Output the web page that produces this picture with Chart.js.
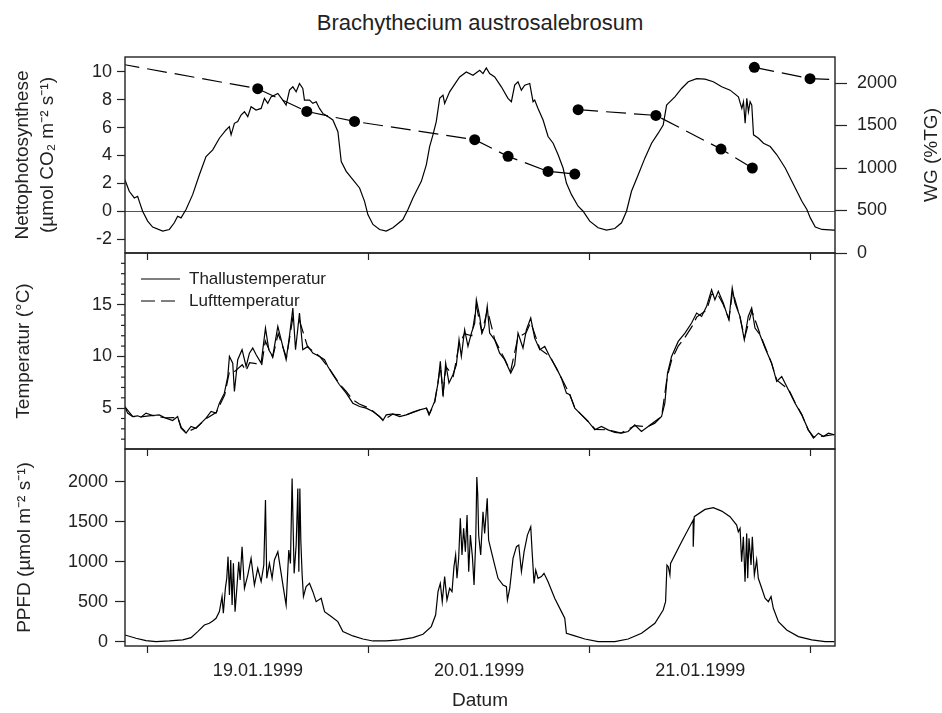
<!DOCTYPE html>
<html>
<head>
<meta charset="utf-8">
<script src="https://cdn.jsdelivr.net/npm/chart.js"></script>
<style>
  body { margin: 0; background: #fff; }
  #wrap { position: relative; width: 942px; height: 713px; }
  #wrap canvas { position: absolute; left: 0; top: 0; }
  #titel { position: absolute; left: 125px; width: 710px; top: 10px; line-height: 26px;
           text-align: center; font: 22px 'Liberation Sans', Arial, sans-serif; color: #222; }
</style>
</head>
<body>
<div id="wrap">
  <div id="titel">Brachythecium austrosalebrosum</div>
  <canvas id="npChart" width="942" height="713"></canvas>
  <canvas id="tempChart" width="942" height="713"></canvas>
  <canvas id="ppfdChart" width="942" height="713"></canvas>
</div>
<script>
// Zeitachse in Stunden ab 19.01.1999 0:00
const tagGrenzen = [0, 24, 48, 72];
const tagMitte = [12, 36, 60];
const tagLabels = ['19.01.1999', '20.01.1999', '21.01.1999'];

// Nettophotosynthese
const npZeit = [-2.43, -1.96, -1.41, -1.05, -0.87, -0.51, 0.04, 0.58, 1.67, 2.39, 2.93, 3.29, 3.66, 4.2, 4.92, 5.65, 6.37, 7.1, 7.82, 8.54,
  8.9, 9.09, 9.45, 9.81, 10.17, 10.54, 10.9, 11.26, 11.8, 12.35, 12.71, 13.07, 13.43, 14.16, 14.7, 15.06, 15.43, 15.79, 16.15, 16.51,
  16.87, 17.05, 17.6, 17.96, 18.32, 18.68, 19.04, 19.59, 20.13, 20.68, 21.04, 21.58, 22.3, 23.03, 23.57, 23.93, 24.48, 25.2, 25.92, 26.65,
  27.73, 28.28, 28.82, 29.36, 29.73, 30.27, 30.63, 30.99, 31.35, 31.72, 32.08, 32.26, 32.8, 33.16, 33.52, 33.89, 34.61, 35.33, 36.06, 36.42,
  36.78, 37.14, 37.69, 38.41, 39.13, 39.5, 39.86, 40.22, 40.58, 40.95, 41.49, 41.85, 42.03, 42.39, 42.94, 43.48, 44.03, 44.57, 45.11, 45.47,
  46.02, 46.74, 47.28, 48.0, 48.91, 49.82, 50.72, 51.45, 51.99, 52.53, 53.26, 53.98, 54.71, 55.43, 55.97, 56.34, 56.52, 57.24, 57.97, 58.69,
  59.6, 60.51, 61.41, 62.32, 63.23, 64.13, 64.5, 64.68, 64.86, 65.04, 65.22, 65.4, 65.58, 65.77, 66.31, 66.85, 67.58, 68.3, 69.21, 70.12,
  71.02, 71.56, 71.93, 72.47, 73.2, 74.46, 74.61];
const npWert = [2.26, 1.43, 0.95, 1.07, 0.71, 0, -0.71, -1.14, -1.43, -1.31, -0.83, -0.36, -0.48, 0.12, 1.19, 2.62, 3.93, 4.4, 5.24, 5.83,
  6.07, 5.48, 6.31, 6.43, 6.9, 7.14, 6.79, 7.5, 7.26, 7.38, 8.1, 7.74, 8.21, 8.45, 7.98, 7.62, 8.69, 8.93, 8.57, 9.17,
  8.81, 7.98, 7.98, 7.74, 7.86, 7.38, 7.02, 6.79, 6.55, 5.71, 3.57, 2.86, 2.26, 1.67, 0.71, -0.24, -0.95, -1.31, -1.43, -1.19,
  -0.6, 0.12, 0.95, 1.67, 2.14, 3.33, 4.64, 5.48, 6.43, 8.1, 8.33, 7.74, 8.57, 8.93, 9.29, 9.64, 10.0, 9.76, 10.12, 9.88,
  10.29, 9.88, 9.64, 8.93, 8.1, 7.86, 9.05, 9.29, 8.69, 9.05, 9.17, 7.86, 7.98, 7.38, 6.55, 5.36, 4.88, 4.05, 3.1, 2.02,
  1.19, 0.36, 0, -0.71, -1.19, -1.36, -1.24, -0.83, 0, 1.43, 2.62, 3.81, 4.88, 5.6, 6.19, 7.62, 7.74, 8.21, 8.81, 9.29,
  9.52, 9.48, 9.29, 8.93, 8.69, 8.21, 7.38, 7.86, 6.31, 8.1, 7.14, 7.86, 7.62, 5.48, 5.24, 4.88, 4.64, 4.05, 3.1, 1.9,
  0.71, 0.12, -0.48, -1.14, -1.31, -1.36, -1.36];

// Wassergehalt (null = Lücke zwischen Messreihen)
const wgZeit = [-6, 11.98, 17.3, 22.48, 35.52, 39.14, 43.48, 46.38, 46.55, 46.74, 55.18, 62.24, 65.64, 65.75, 65.86, 71.9, 77];
const wgWert = [2285, 1933, 1666, 1548, 1333, 1137, 960, 929, null, 1686, 1619, 1223, 1000, null, 2184, 2051, 2030];

// Thallustemperatur
const tempZeit = [-2.43, -2.14, -1.59, -1.05, -0.69, -0.14, 0.58, 1.3, 2.03, 2.75, 3.29, 3.66, 4.2, 4.74, 5.29, 5.83, 6.37, 6.92, 7.46, 7.82,
  8.36, 8.73, 8.91, 9.27, 9.45, 9.81, 10.28, 10.72, 11.08, 11.44, 11.81, 12.35, 12.82, 13.18, 13.61, 14.16, 14.7, 15.06, 15.42, 15.79,
  16.08, 16.51, 16.87, 17.42, 17.96, 18.68, 19.23, 19.59, 20.13, 20.85, 21.58, 22.3, 23.03, 23.75, 24.48, 25.2, 25.56, 25.92, 26.65, 27.37,
  28.1, 28.82, 29.54, 30.27, 30.56, 31.17, 31.54, 31.79, 32.08, 32.37, 32.73, 33.16, 33.53, 33.82, 34.07, 34.43, 34.79, 35.16, 35.52, 35.7,
  36.06, 36.31, 36.6, 36.88, 37.14, 37.69, 38.23, 38.77, 39.43, 39.86, 40.22, 40.76, 41.13, 41.6, 42.03, 42.58, 43.12, 43.66, 44.39, 44.93,
  45.47, 45.84, 46.38, 47.1, 47.82, 48.55, 49.27, 49.99, 50.72, 51.44, 52.16, 52.89, 53.61, 54.34, 55.06, 55.79, 56.15, 56.44, 56.88, 57.6,
  58.33, 59.05, 59.6, 60.14, 60.68, 61.22, 61.58, 61.95, 62.49, 62.85, 63.1, 63.46, 63.76, 64.3, 64.77, 65.2, 65.57, 65.93, 66.47, 67.02,
  67.74, 68.28, 68.83, 69.55, 70.28, 71.0, 71.72, 72.27, 72.81, 73.36, 73.9, 74.55];
const thallusWert = [5.16, 4.52, 4.19, 4.26, 4.13, 4.52, 4.29, 4.35, 4.03, 3.81, 4.19, 3.06, 2.58, 3.23, 3.06, 3.55, 4.03, 4.68, 4.52, 5.48,
  6.45, 8.06, 10.0, 9.35, 6.61, 9.68, 10.65, 9.03, 10.32, 10.81, 10.16, 9.35, 12.74, 10.65, 10.0, 12.9, 10.97, 9.68, 11.94, 14.68,
  10.65, 14.19, 10.65, 10.97, 10.32, 10.0, 9.68, 9.03, 8.23, 7.26, 6.45, 5.48, 5.16, 5.0, 4.68, 4.19, 3.81, 4.35, 4.45, 4.19,
  4.35, 4.61, 4.84, 5.0, 4.35, 5.65, 7.42, 9.52, 6.13, 9.35, 7.42, 8.23, 9.19, 11.61, 10.0, 12.58, 10.97, 12.26, 13.23, 15.48,
  13.87, 12.26, 12.9, 14.84, 12.26, 11.61, 10.32, 9.68, 8.39, 9.19, 12.26, 10.81, 12.58, 13.71, 11.77, 10.65, 10.97, 10.0, 8.87, 7.9,
  6.45, 6.29, 5.0, 4.35, 3.71, 2.9, 3.23, 2.9, 2.65, 2.58, 2.74, 3.39, 2.74, 3.23, 3.55, 4.19, 5.48, 8.39, 10.0, 11.45,
  12.26, 13.23, 14.19, 13.87, 14.84, 16.45, 15.48, 16.29, 15.16, 14.19, 13.55, 16.61, 15.16, 13.87, 11.61, 13.87, 14.68, 12.74, 12.1, 10.81,
  9.35, 7.58, 8.06, 6.77, 5.48, 4.35, 2.9, 2.1, 2.58, 2.26, 2.58, 2.42];

// Lufttemperatur
const luftZeit = [-2.4, -1.6, -0.7, 0.6, 2.0, 3.3, 3.7, 4.2, 5.3, 6.4, 7.5, 8.4, 8.9, 9.3, 9.8, 10.3, 10.7, 11.1, 11.8, 12.4,
  12.8, 13.6, 14.2, 15.1, 15.8, 16.5, 17.4, 18.7, 19.6, 20.9, 21.6, 22.3, 23.0, 23.8, 24.5, 25.6, 26.6, 28.1, 29.5, 30.3,
  30.6, 31.2, 31.8, 32.1, 32.4, 33.2, 33.8, 34.4, 35.2, 35.7, 36.3, 36.9, 37.7, 38.8, 39.4, 40.2, 41.1, 41.6, 42.6, 43.7,
  44.9, 45.8, 46.4, 47.8, 48.6, 50.0, 51.4, 52.9, 54.3, 55.8, 56.4, 56.9, 57.6, 58.3, 59.1, 59.6, 60.7, 61.2, 61.9, 62.5,
  63.1, 63.5, 64.3, 64.8, 65.6, 66.5, 67.7, 68.3, 69.6, 70.3, 71.0, 71.7, 72.3, 73.4, 74.55];
const luftWert = [5.1, 4.2, 4.15, 4.3, 4.05, 4.1, 3.1, 2.65, 3.1, 4.0, 4.6, 6.3, 8.5, 8.4, 8.8, 9.2, 8.6, 9.4, 9.3, 9.1,
  11.5, 9.9, 12.2, 9.9, 13.8, 13.5, 10.9, 10.0, 9.0, 7.3, 6.6, 5.8, 5.4, 5.1, 4.7, 3.85, 4.4, 4.35, 4.8, 5.0,
  4.4, 5.6, 9.0, 6.5, 9.0, 8.1, 11.0, 12.2, 12.0, 14.9, 12.3, 14.5, 11.6, 9.7, 8.5, 11.8, 12.3, 13.3, 10.7, 10.0,
  7.95, 6.4, 5.0, 3.75, 2.95, 2.9, 2.6, 3.3, 3.2, 4.2, 8.0, 9.7, 11.0, 11.8, 12.9, 13.8, 14.5, 16.0, 16.0, 15.0,
  13.6, 16.3, 13.8, 11.8, 14.4, 12.1, 9.4, 7.7, 6.8, 5.5, 4.4, 2.9, 2.2, 2.3, 2.45];

// PPFD
const ppfdZeit = [-2.43, -1.23, -0.14, 0.94, 2.39, 3.84, 4.74, 5.47, 6.19, 6.73, 7.1, 7.46, 7.82, 8.11, 8.25, 8.47, 8.62, 8.76, 8.91, 9.05,
  9.2, 9.34, 9.52, 9.7, 9.92, 10.07, 10.28, 10.54, 10.9, 11.26, 11.62, 11.98, 12.35, 12.64, 12.74, 12.82, 12.96, 13.25, 13.54, 13.79,
  14.16, 14.52, 14.77, 15.06, 15.35, 15.53, 15.71, 15.93, 16.15, 16.33, 16.44, 16.55, 16.66, 16.8, 16.94, 17.23, 17.6, 17.96, 18.32, 18.86,
  19.23, 19.95, 20.67, 21.22, 22.3, 23.39, 24.48, 25.92, 27.37, 28.82, 29.91, 30.81, 31.28, 31.54, 31.79, 32.0, 32.26, 32.51, 32.8, 33.06,
  33.27, 33.45, 33.6, 33.78, 33.96, 34.14, 34.32, 34.51, 34.69, 34.87, 35.05, 35.27, 35.45, 35.63, 35.75, 35.85, 35.95, 36.17, 36.42, 36.6,
  36.88, 37.03, 37.33, 37.69, 38.05, 38.6, 38.96, 39.07, 39.32, 39.68, 40.05, 40.3, 40.59, 40.88, 41.24, 41.6, 41.75, 41.96, 42.14, 42.39,
  42.76, 43.04, 43.48, 44.2, 44.93, 45.29, 45.47, 46.38, 47.47, 48.91, 50.72, 52.17, 53.62, 55.07, 55.97, 56.23, 56.38, 56.52, 56.7, 56.77,
  57.97, 59.22, 59.23, 59.34, 60.51, 61.41, 62.32, 63.22, 63.94, 64.12, 64.31, 64.48, 64.67, 64.85, 65.03, 65.14, 65.28, 65.5, 65.64, 65.86,
  66.11, 66.29, 66.66, 67.02, 67.38, 67.67, 67.92, 68.47, 69.37, 70.64, 72.09, 73.54, 74.55];
const ppfdWert = [83, 42, 12, 0, 8, 21, 50, 125, 208, 229, 258, 292, 375, 563, 354, 667, 792, 1063, 583, 1021,
  458, 979, 375, 646, 1000, 771, 1188, 667, 833, 1042, 708, 917, 750, 958, 1396, 1771, 792, 979, 792, 1021,
  1125, 854, 667, 458, 1146, 979, 2042, 854, 1208, 1917, 875, 1917, 1250, 833, 563, 688, 729, 625, 500, 542,
  375, 313, 250, 125, 71, 33, 8, 8, 21, 50, 92, 188, 333, 625, 729, 500, 813, 521, 667, 625,
  938, 1083, 792, 1042, 1542, 1083, 1417, 1125, 1583, 875, 1333, 1063, 708, 1250, 2060, 1833, 1333, 1083, 1625, 1354,
  1792, 1271, 1125, 958, 792, 708, 688, 521, 667, 1042, 1188, 1208, 875, 1125, 1333, 1438, 1125, 729, 896, 792,
  813, 854, 750, 542, 375, 292, 104, 71, 33, 0, 0, 33, 104, 229, 396, 500, 958, 938, 833, 979,
  1250, 1521, 1188, 1563, 1654, 1675, 1633, 1563, 1458, 1375, 1417, 1000, 1313, 750, 1354, 792, 1292, 958, 1313, 833,
  1021, 792, 667, 542, 500, 563, 417, 250, 146, 63, 21, 0, 0];

// Achsenbeschriftungen
const npTicks = [-2, 0, 2, 4, 6, 8, 10];
const wgTicks = [0, 500, 1000, 1500, 2000];
const tempTicks = [5, 10, 15];
const tempMinor = [2, 3, 4, 6, 7, 8, 9, 11, 12, 13, 14, 16, 17, 18, 19];
const ppfdTicks = [0, 500, 1000, 1500, 2000];

const X_MIN = -2.42, X_MAX = 74.61;
const LINKS = 125, RECHTS = 107;   // Breite der y-Achsen
const tickSchrift = { size: 18 };
const titelSchrift = { size: 19, lineHeight: 1.3 };

Chart.defaults.font.family = "'Liberation Sans', Arial, sans-serif";
Chart.defaults.color = '#222';

function punkte(zeit, wert) {
  return zeit.map((x, i) => ({ x: x, y: wert[i] }));
}

function feste(liste) {
  return scale => { scale.ticks = liste.map(v => ({ value: v })); };
}

// gemeinsame Zeitachse; Beschriftung nur im unteren Diagramm
function xAchse(mitLabels) {
  const alle = tagGrenzen.concat(tagMitte).sort((a, b) => a - b);
  return {
    type: 'linear', min: X_MIN, max: X_MAX,
    afterBuildTicks: feste(alle),
    afterFit: s => { s.height = mitLabels ? 67 : 8; },
    border: { display: false },
    grid: {
      drawOnChartArea: false, tickLength: 7, tickWidth: 1.2,
      tickColor: c => tagMitte.includes(c.tick.value) ? 'rgba(0,0,0,0)' : '#222'
    },
    ticks: {
      autoSkip: false, maxRotation: 0, padding: 7, font: tickSchrift,
      callback: v => (mitLabels && tagMitte.includes(v)) ? tagLabels[tagMitte.indexOf(v)] : ''
    },
    title: mitLabels
      ? { display: true, text: 'Datum', font: { size: 19, lineHeight: 1.2 }, padding: { top: 0, bottom: 1 } }
      : { display: false }
  };
}

function yAchse(min, max, ticks, titel, titelAbstand, tickLaenge, abstand) {
  return {
    position: 'left', min: min, max: max,
    afterBuildTicks: feste(ticks),
    afterFit: s => { s.width = LINKS; },
    border: { display: false },
    grid: { color: 'rgba(0,0,0,0)', tickColor: '#222', tickLength: tickLaenge, tickWidth: 1.2 },
    ticks: { padding: abstand, font: tickSchrift, callback: v => String(v) },
    title: { display: true, text: titel, font: titelSchrift, padding: { top: titelAbstand } }
  };
}

// Rahmen um jede Grafik
const rahmen = {
  id: 'rahmen',
  afterDraw(chart) {
    const { ctx, chartArea: a } = chart;
    ctx.save();
    ctx.strokeStyle = '#222';
    ctx.lineWidth = 1.4;
    ctx.strokeRect(a.left, a.top, a.right - a.left, a.bottom - a.top);
    ctx.restore();
  }
};

const linie = { pointRadius: 0, borderColor: '#000', borderWidth: 1.2, tension: 0, fill: false };

// Diagramm 1: Nettophotosynthese + WG
const yNP = yAchse(-3, 11.07, npTicks, ['Nettophotosynthese', '(µmol CO₂ m⁻² s⁻¹)'], 10.5, 8, 5);
yNP.grid.color = c => c.tick.value === 0 ? '#555' : 'rgba(0,0,0,0)';
yNP.grid.lineWidth = 1;

new Chart(document.getElementById('npChart'), {
  type: 'line',
  data: {
    datasets: [
      {
        data: punkte(wgZeit, wgWert), yAxisID: 'y2', borderColor: '#000', borderWidth: 1.2,
        borderDash: [20, 8], spanGaps: false, tension: 0,
        pointRadius: c => (c.raw && (c.raw.x < X_MIN || c.raw.x > X_MAX)) ? 0 : 5.5,
        pointBackgroundColor: '#000', pointBorderColor: '#000', pointBorderWidth: 0
      },
      Object.assign({ data: punkte(npZeit, npWert), yAxisID: 'y' }, linie)
    ]
  },
  options: {
    responsive: false, animation: false,
    layout: { padding: { top: 57, bottom: 713 - 253 - 8, left: 0, right: 0 } },
    plugins: { legend: { display: false }, tooltip: { enabled: false } },
    scales: {
      x: xAchse(false),
      y: yNP,
      y2: {
        position: 'right', min: 0, max: 2306,
        afterBuildTicks: feste(wgTicks),
        afterFit: s => { s.width = RECHTS; },
        border: { display: false },
        grid: { drawOnChartArea: false, tickColor: '#222', tickLength: 12, tickWidth: 1.2 },
        ticks: { padding: 10, font: tickSchrift, callback: v => String(v) }
      }
    }
  },
  plugins: [rahmen, {
    id: 'wgTitel',
    afterDraw(chart) {
      const { ctx, chartArea: a } = chart;
      ctx.save();
      ctx.translate(932, (a.top + a.bottom) / 2);
      ctx.rotate(-Math.PI / 2);
      ctx.font = "19px 'Liberation Sans', Arial, sans-serif";
      ctx.fillStyle = '#222';
      ctx.textAlign = 'center';
      ctx.textBaseline = 'middle';
      ctx.fillText('WG (%TG)', 0, 0);
      ctx.restore();
    }
  }]
});

// Diagramm 2: Temperaturen
new Chart(document.getElementById('tempChart'), {
  type: 'line',
  data: {
    datasets: [
      Object.assign({ label: 'Thallustemperatur', data: punkte(tempZeit, thallusWert) }, linie),
      Object.assign({ label: 'Lufttemperatur', data: punkte(luftZeit, luftWert), borderDash: [14, 6] }, linie)
    ]
  },
  options: {
    responsive: false, animation: false,
    layout: { padding: { top: 253, bottom: 713 - 449 - 8, left: 0, right: RECHTS } },
    plugins: { legend: { display: false }, tooltip: { enabled: false } },
    scales: {
      x: xAchse(false),
      y: yAchse(1.05, 20, tempTicks, 'Temperatur (°C)', 11, 8, 5)
    }
  },
  plugins: [rahmen, {
    id: 'nebenTicks',
    afterDraw(chart) {
      const { ctx, chartArea: a, scales } = chart;
      ctx.save();
      ctx.strokeStyle = '#222';
      ctx.lineWidth = 1.2;
      tempMinor.forEach(v => {
        const y = scales.y.getPixelForValue(v);
        ctx.beginPath();
        ctx.moveTo(a.left - 4, y);
        ctx.lineTo(a.left, y);
        ctx.stroke();
      });
      ctx.restore();
    }
  }, {
    id: 'legende',
    afterDraw(chart) {
      const ctx = chart.ctx;
      const eintraege = chart.data.datasets;
      ctx.save();
      ctx.font = "17px 'Liberation Sans', Arial, sans-serif";
      ctx.fillStyle = '#222';
      ctx.textBaseline = 'middle';
      eintraege.forEach((ds, i) => {
        const y = 279 + i * 22;
        ctx.strokeStyle = '#000';
        ctx.lineWidth = 1.2;
        ctx.setLineDash(ds.borderDash || []);
        ctx.beginPath();
        ctx.moveTo(141, y);
        ctx.lineTo(180, y);
        ctx.stroke();
        ctx.setLineDash([]);
        ctx.fillText(ds.label, 189, y);
      });
      ctx.restore();
    }
  }]
});

// Diagramm 3: PPFD
new Chart(document.getElementById('ppfdChart'), {
  type: 'line',
  data: {
    datasets: [Object.assign({ data: punkte(ppfdZeit, ppfdWert) }, linie)]
  },
  options: {
    responsive: false, animation: false,
    layout: { padding: { top: 449, bottom: 0, left: 0, right: RECHTS } },
    plugins: { legend: { display: false }, tooltip: { enabled: false } },
    scales: {
      x: xAchse(true),
      y: yAchse(-55, 2410, ppfdTicks, 'PPFD (µmol m⁻² s⁻¹)', 12, 10, 7)
    }
  },
  plugins: [rahmen]
});
</script>
</body>
</html>
